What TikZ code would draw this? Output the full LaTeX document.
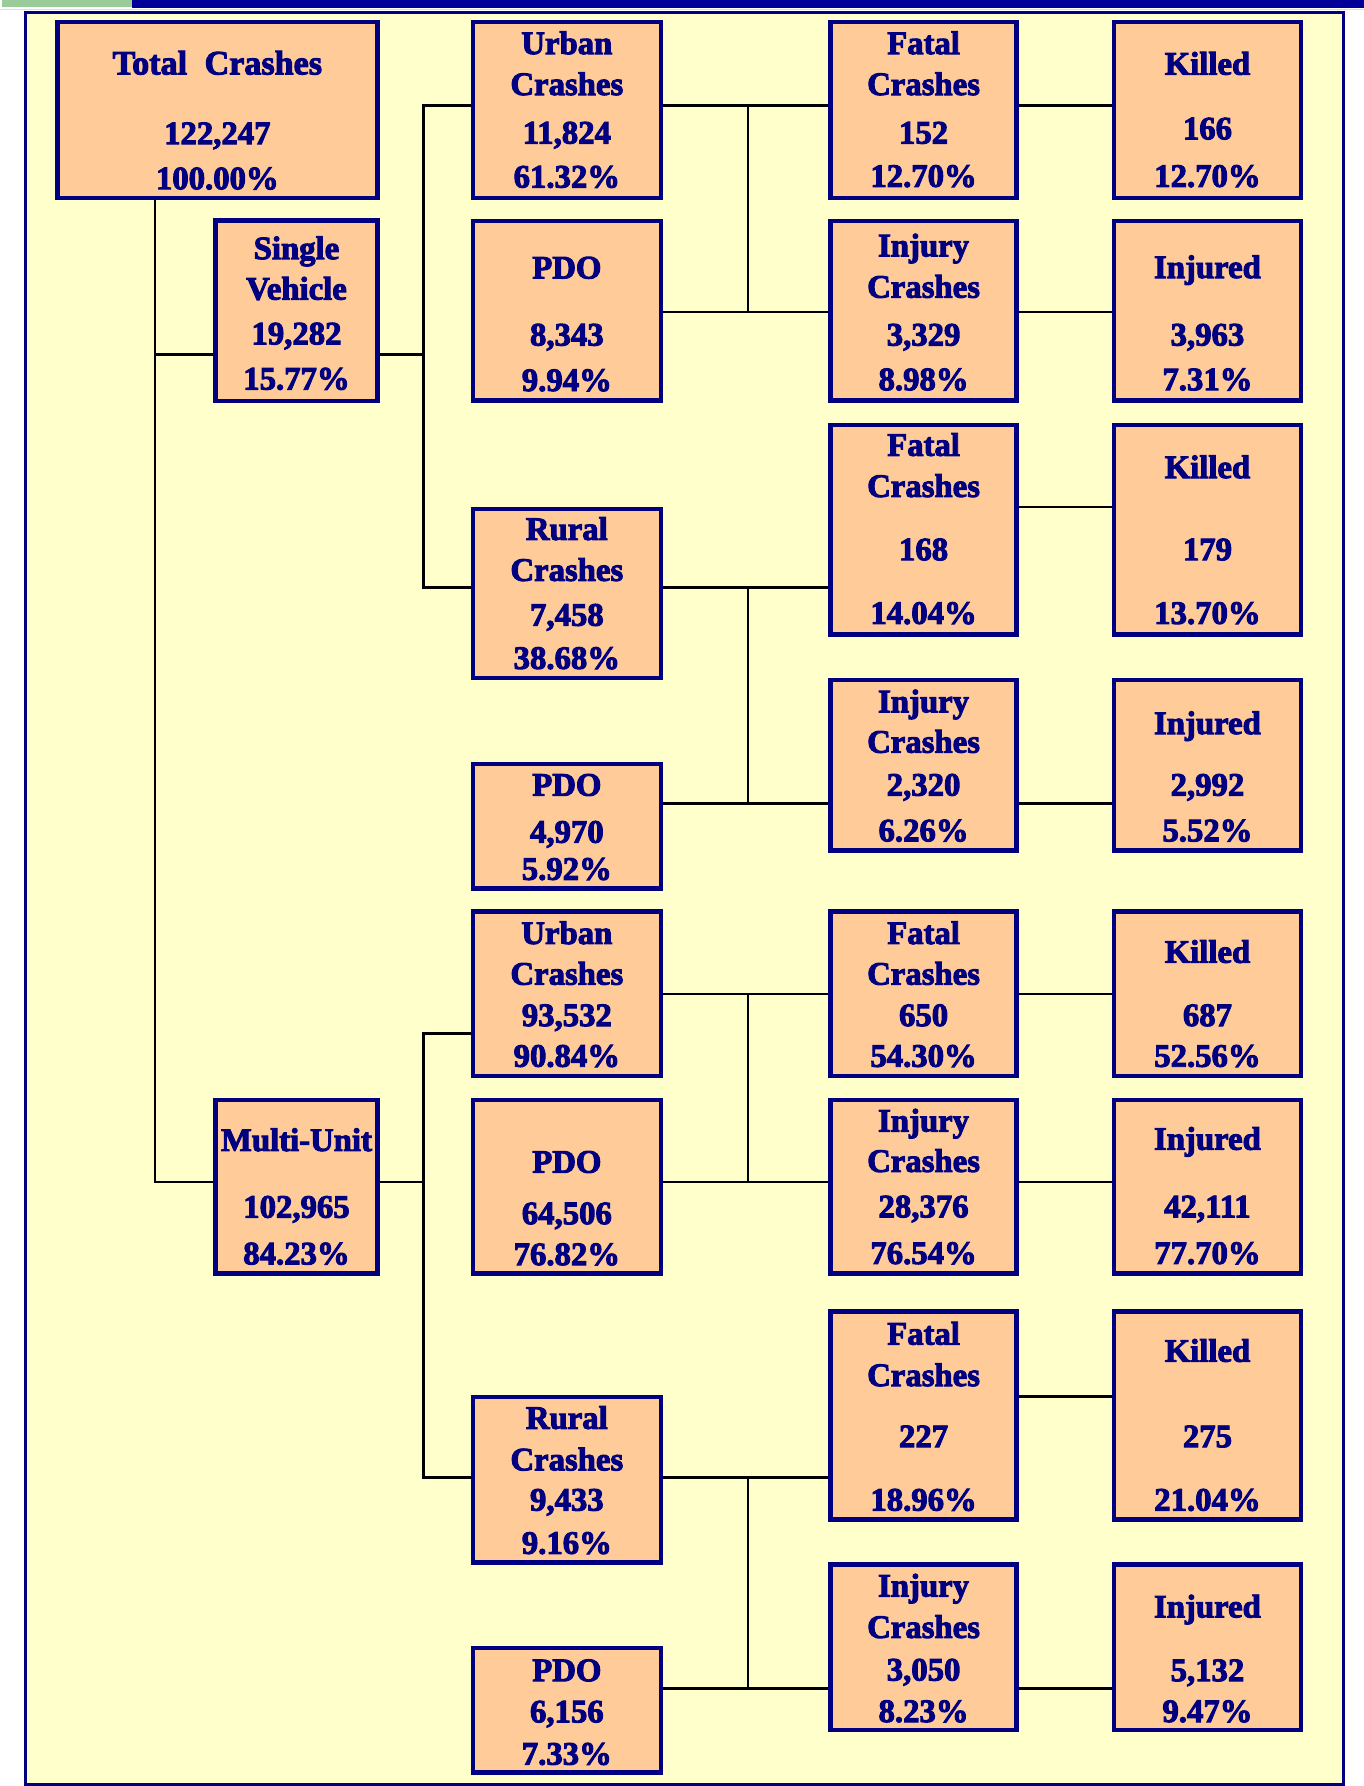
\documentclass[tikz,border=0pt]{standalone}
\usepackage{fontspec}
\setmainfont{Liberation Serif}[BoldFeatures={FakeBold=3}]
\usetikzlibrary{fit}
\definecolor{navyc}{HTML}{000080}
\definecolor{barnavy}{HTML}{000099}
\definecolor{bargreen}{HTML}{99CC99}
\definecolor{peach}{HTML}{FFCC99}
\definecolor{paleyel}{HTML}{FFFFCC}
\pgfdeclarelayer{bg}
\pgfsetlayers{bg,main}
\tikzset{
  crbox/.style={draw=navyc, fill=peach, line width=1.95pt, inner sep=0pt, outer sep=0pt},
  lbl/.style={anchor=base, text=navyc, inner sep=0pt, outer sep=0pt,
    font=\fontsize{14.4}{16}\selectfont\bfseries},
  conn/.style={draw=black, line width=1.15pt}
}
\newcommand\bx[5]{\node[crbox, fit={(#2,#3) (#4,#5)}] (#1) {};}
\newcommand\lb[4]{\node[lbl] (#1) at (#2.center |- 0,#3) {#4};}
\begin{document}
\begin{tikzpicture}[x=0.5pt,y=-0.5pt]
\useasboundingbox (0,0) rectangle (1200,1571.3);
% top bars
\fill[bargreen] (2,0) rectangle (116,6);
\fill[barnavy] (116,0) rectangle (1200,6.8);
\draw[gray!25, line width=0.4pt] (0,8) -- (1200,8);
% frame
\begin{pgfonlayer}{bg}
\filldraw[fill=paleyel, draw=navyc, line width=1.45pt] (22.5,11) rectangle (1182,1570);
\end{pgfonlayer}

% column 1
\bx{tc}{50.4}{19.5}{332}{174}
\bx{sv}{189.7}{194}{332}{352.8}
\bx{mu}{189.7}{968}{332}{1120.5}
% column 2
\bx{u1}{416}{19.5}{581.4}{174}
\bx{p1}{416}{194.6}{581.4}{352.5}
\bx{r1}{416}{447.7}{581.4}{596.4}
\bx{p2}{416}{672.4}{581.4}{781.7}
\bx{u2}{416}{801.9}{581.4}{946.7}
\bx{p3}{416}{968}{581.4}{1120.5}
\bx{r2}{416}{1229.2}{581.4}{1374.8}
\bx{p4}{416}{1450}{581.4}{1559.5}
% column 3
\bx{f1}{730.7}{19.5}{894.4}{174}
\bx{i1}{730.7}{194.6}{894.4}{352.5}
\bx{f2}{730.7}{373.8}{894.4}{558.2}
\bx{i2}{730.7}{598.5}{894.4}{748.4}
\bx{f3}{730.7}{801.9}{894.4}{946.7}
\bx{i3}{730.7}{968}{894.4}{1120.5}
\bx{f4}{730.7}{1153.7}{894.4}{1336.7}
\bx{i4}{730.7}{1376.6}{894.4}{1522}
% column 4
\bx{k1}{979.9}{19.5}{1144.7}{174}
\bx{d1}{979.9}{194.6}{1144.7}{352.5}
\bx{k2}{979.9}{373.8}{1144.7}{558.2}
\bx{d2}{979.9}{598.5}{1144.7}{748.4}
\bx{k3}{979.9}{801.9}{1144.7}{946.7}
\bx{d3}{979.9}{968}{1144.7}{1120.5}
\bx{k4}{979.9}{1153.7}{1144.7}{1336.7}
\bx{d4}{979.9}{1376.6}{1144.7}{1522}

% labels
\node[lbl, font=\fontsize{15}{16}\selectfont\bfseries] (tcA) at (tc.center |- 0,65.5) {Total\hspace{7.7pt}Crashes};
\lb{tcB}{tc}{126.8}{122,247}
\lb{tcC}{tc}{166.5}{100.00\%}
\lb{svA}{sv}{228}{Single}
\lb{svB}{sv}{263.6}{Vehicle}
\lb{svC}{sv}{303}{19,282}
\lb{svD}{sv}{342.7}{15.77\%}
\lb{muA}{mu}{1012.6}{Multi-Unit}
\lb{muB}{mu}{1071.3}{102,965}
\lb{muC}{mu}{1112.4}{84.23\%}

\lb{u1A}{u1}{47.6}{Urban}
\lb{u1B}{u1}{83.6}{Crashes}
\lb{u1C}{u1}{126.3}{11,824}
\lb{u1D}{u1}{165}{61.32\%}
\lb{p1A}{p1}{245}{PDO}
\lb{p1B}{p1}{304}{8,343}
\lb{p1C}{p1}{344}{9.94\%}
\lb{r1A}{r1}{475}{Rural}
\lb{r1B}{r1}{511}{Crashes}
\lb{r1C}{r1}{550.5}{7,458}
\lb{r1D}{r1}{588.5}{38.68\%}
\lb{p2A}{p2}{700}{PDO}
\lb{p2B}{p2}{741.4}{4,970}
\lb{p2C}{p2}{774}{5.92\%}
\lb{u2A}{u2}{830.5}{Urban}
\lb{u2B}{u2}{866.3}{Crashes}
\lb{u2C}{u2}{902.7}{93,532}
\lb{u2D}{u2}{938.5}{90.84\%}
\lb{p3A}{p3}{1031.7}{PDO}
\lb{p3B}{p3}{1077}{64,506}
\lb{p3C}{p3}{1113}{76.82\%}
\lb{r2A}{r2}{1257}{Rural}
\lb{r2B}{r2}{1293.6}{Crashes}
\lb{r2C}{r2}{1329}{9,433}
\lb{r2D}{r2}{1367}{9.16\%}
\lb{p4A}{p4}{1479}{PDO}
\lb{p4B}{p4}{1515.3}{6,156}
\lb{p4C}{p4}{1552.5}{7.33\%}

\lb{f1A}{f1}{47.6}{Fatal}
\lb{f1B}{f1}{83.6}{Crashes}
\lb{f1C}{f1}{126.3}{152}
\lb{f1D}{f1}{164.4}{12.70\%}
\lb{i1A}{i1}{225.6}{Injury}
\lb{i1B}{i1}{261.9}{Crashes}
\lb{i1C}{i1}{304}{3,329}
\lb{i1D}{i1}{343.3}{8.98\%}
\lb{f2A}{f2}{401}{Fatal}
\lb{f2B}{f2}{437.2}{Crashes}
\lb{f2C}{f2}{492.9}{168}
\lb{f2D}{f2}{548.9}{14.04\%}
\lb{i2A}{i2}{626.7}{Injury}
\lb{i2B}{i2}{662.2}{Crashes}
\lb{i2C}{i2}{700}{2,320}
\lb{i2D}{i2}{740.2}{6.26\%}
\lb{f3A}{f3}{830.5}{Fatal}
\lb{f3B}{f3}{866.3}{Crashes}
\lb{f3C}{f3}{902.7}{650}
\lb{f3D}{f3}{938.5}{54.30\%}
\lb{i3A}{i3}{995.5}{Injury}
\lb{i3B}{i3}{1031}{Crashes}
\lb{i3C}{i3}{1071}{28,376}
\lb{i3D}{i3}{1112}{76.54\%}
\lb{f4A}{f4}{1183}{Fatal}
\lb{f4B}{f4}{1219.4}{Crashes}
\lb{f4C}{f4}{1273.2}{227}
\lb{f4D}{f4}{1329}{18.96\%}
\lb{i4A}{i4}{1404.6}{Injury}
\lb{i4B}{i4}{1441}{Crashes}
\lb{i4C}{i4}{1478.5}{3,050}
\lb{i4D}{i4}{1515}{8.23\%}

\lb{k1A}{k1}{65.7}{Killed}
\lb{k1B}{k1}{122.6}{166}
\lb{k1C}{k1}{164.4}{12.70\%}
\lb{d1A}{d1}{244.6}{Injured}
\lb{d1B}{d1}{304}{3,963}
\lb{d1C}{d1}{343.3}{7.31\%}
\lb{k2A}{k2}{420.6}{Killed}
\lb{k2B}{k2}{492.9}{179}
\lb{k2C}{k2}{548.9}{13.70\%}
\lb{d2A}{d2}{645.8}{Injured}
\lb{d2B}{d2}{700}{2,992}
\lb{d2C}{d2}{740.2}{5.52\%}
\lb{k3A}{k3}{847}{Killed}
\lb{k3B}{k3}{902.7}{687}
\lb{k3C}{k3}{938.5}{52.56\%}
\lb{d3A}{d3}{1011.5}{Injured}
\lb{d3B}{d3}{1071}{42,111}
\lb{d3C}{d3}{1112}{77.70\%}
\lb{k4A}{k4}{1198}{Killed}
\lb{k4B}{k4}{1273.2}{275}
\lb{k4C}{k4}{1329}{21.04\%}
\lb{d4A}{d4}{1423}{Injured}
\lb{d4B}{d4}{1479}{5,132}
\lb{d4C}{d4}{1515}{9.47\%}

% junction coordinates
\coordinate (ja) at (136.5,1040);
\coordinate (jsv) at (136.5,312);
\coordinate (jb) at (372.5,312);
\coordinate (jb1) at (372.5,93);
\coordinate (jb2) at (372.5,517);
\coordinate (jc1) at (658,93);
\coordinate (jc2) at (658,274.5);
\coordinate (jd1) at (658,517);
\coordinate (jd2) at (658,707);
\coordinate (je) at (937,446);
\coordinate (jg) at (372.5,1040);
\coordinate (jg1) at (372.5,909.5);
\coordinate (jg2) at (372.5,1300);
\coordinate (jh1) at (658,874.5);
\coordinate (jh2) at (658,1040);
\coordinate (ji1) at (658,1300);
\coordinate (ji2) at (658,1485.5);
\coordinate (jk) at (937,1228.5);

\begin{pgfonlayer}{bg}
% total -> single vehicle / multi-unit
\draw[conn] (tc.south -| ja) -- (ja) -- (mu.west |- ja);
\draw[conn] (jsv) -- (sv.west |- jsv);
% single vehicle -> urban / rural
\draw[conn] (sv.east |- jb) -- (jb);
\draw[conn] (u1.west |- jb1) -- (jb1) -- (jb2) -- (r1.west |- jb2);
% urban 1
\draw[conn] (u1.east |- jc1) -- (f1.west |- jc1);
\draw[conn] (jc1) -- (jc2);
\draw[conn] (p1.east |- jc2) -- (i1.west |- jc2);
\draw[conn] (f1.east |- jc1) -- (k1.west |- jc1);
\draw[conn] (i1.east |- jc2) -- (d1.west |- jc2);
% rural 1
\draw[conn] (r1.east |- jd1) -- (f2.west |- jd1);
\draw[conn] (jd1) -- (jd2);
\draw[conn] (p2.east |- jd2) -- (i2.west |- jd2);
\draw[conn] (f2.east |- je) -- (k2.west |- je);
\draw[conn] (i2.east |- jd2) -- (d2.west |- jd2);
% multi-unit -> urban / rural
\draw[conn] (mu.east |- jg) -- (jg);
\draw[conn] (u2.west |- jg1) -- (jg1) -- (jg2) -- (r2.west |- jg2);
% urban 2
\draw[conn] (u2.east |- jh1) -- (f3.west |- jh1);
\draw[conn] (jh1) -- (jh2);
\draw[conn] (p3.east |- jh2) -- (i3.west |- jh2);
\draw[conn] (f3.east |- jh1) -- (k3.west |- jh1);
\draw[conn] (i3.east |- jh2) -- (d3.west |- jh2);
% rural 2
\draw[conn] (r2.east |- ji1) -- (f4.west |- ji1);
\draw[conn] (ji1) -- (ji2);
\draw[conn] (p4.east |- ji2) -- (i4.west |- ji2);
\draw[conn] (f4.east |- jk) -- (k4.west |- jk);
\draw[conn] (i4.east |- ji2) -- (d4.west |- ji2);
\end{pgfonlayer}
\end{tikzpicture}
\end{document}
